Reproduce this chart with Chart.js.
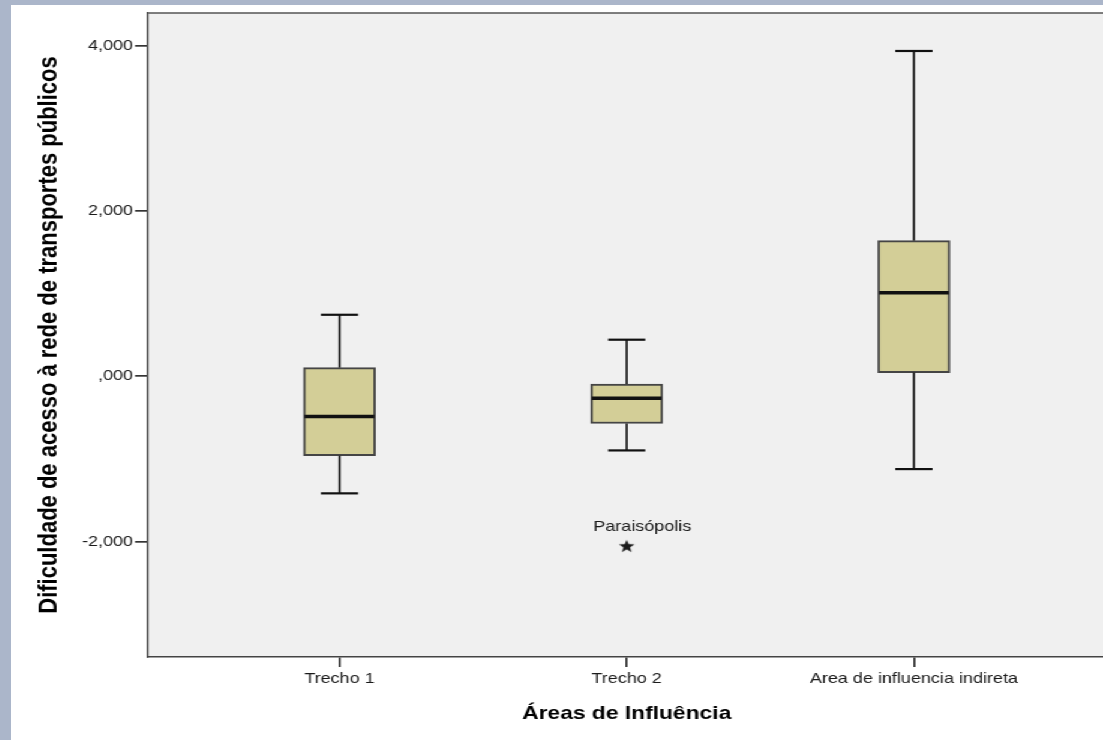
<!DOCTYPE html>
<html>
<head>
<meta charset="utf-8">
<script src="https://cdn.jsdelivr.net/npm/chart.js@4"></script>
<style>
  html, body { margin: 0; padding: 0; overflow: hidden; background: #abb6ca; width: 1103px; height: 740px; }
  #wrap { position: absolute; left: 11px; top: 5px; width: 920px; height: 735px; background: #fff;
          transform: scaleX(1.2); transform-origin: 0 0; }
</style>
</head>
<body>
<div id="wrap"><canvas id="boxChart"></canvas></div>
<script>
// box plot values
const categories = ['Trecho 1', 'Trecho 2', 'Area de influencia indireta'];
const whiskerLow  = [-1.418, -0.898, -1.124];
const quartile1   = [-0.963, -0.572,  0.045];
const medians     = [-0.487, -0.266,  1.011];
const quartile3   = [ 0.105, -0.093,  1.643];
const whiskerHigh = [ 0.745,  0.443,  3.940];

const outlierCategory = [2];
const outlierValues = [-2.054];
const outlierLabels = ['Paraisópolis'];

const yTicks = [-2, 0, 2, 4];

const FONT = "'Liberation Sans', Arial, sans-serif";

// filled 5 point star for the outlier
function makeStar(r) {
  const c = document.createElement('canvas');
  c.width = Math.ceil(r * 2) + 2;
  c.height = Math.ceil(r * 2) + 2;
  const g = c.getContext('2d');
  const cx = c.width / 2, cy = c.height / 2 + r * 0.1;
  g.beginPath();
  for (let i = 0; i < 10; i++) {
    const rad = i % 2 === 0 ? r : r * 0.42;
    const ang = -Math.PI / 2 + i * Math.PI / 5;
    g.lineTo(cx + rad * Math.cos(ang), cy + rad * Math.sin(ang));
  }
  g.closePath();
  g.fillStyle = '#1a1a1a';
  g.fill();
  return c;
}

const boxExtras = {
  id: 'boxExtras',
  beforeDraw(chart) {
    const {ctx, chartArea: a} = chart;
    ctx.save();
    ctx.fillStyle = '#f0f0f0';
    ctx.fillRect(a.left, a.top, a.right - a.left, a.bottom - a.top);
    ctx.restore();
  },
  afterDatasetsDraw(chart) {
    const {ctx, chartArea: a, scales: {x, y}} = chart;
    const line = (x1, y1, x2, y2) => {
      ctx.beginPath();
      ctx.moveTo(x1, y1);
      ctx.lineTo(x2, y2);
      ctx.stroke();
    };
    ctx.save();
    ctx.strokeStyle = '#111';
    categories.forEach((c, i) => {
      const px = x.getPixelForValue(i + 1);
      const hi = y.getPixelForValue(whiskerHigh[i]);
      const lo = y.getPixelForValue(whiskerLow[i]);
      ctx.lineWidth = 1.7;
      line(px, y.getPixelForValue(quartile3[i]), px, hi);
      line(px, y.getPixelForValue(quartile1[i]), px, lo);
      ctx.lineWidth = 2.2;
      line(px - 15.5, hi, px + 15.5, hi);
      line(px - 15.5, lo, px + 15.5, lo);
      ctx.lineWidth = 3.5;
      const md = y.getPixelForValue(medians[i]);
      line(px - 29, md, px + 29, md);
    });
    // outlier labels
    ctx.fillStyle = '#1a1a1a';
    ctx.font = '15px ' + FONT;
    ctx.textAlign = 'center';
    ctx.textBaseline = 'middle';
    outlierLabels.forEach((t, i) => {
      ctx.fillText(t, x.getPixelForValue(outlierCategory[i]) + 13, y.getPixelForValue(outlierValues[i]) - 19);
    });
    // top frame line
    ctx.strokeStyle = '#555';
    ctx.lineWidth = 1.5;
    line(a.left, a.top, a.right, a.top);
    line(a.right, a.top, a.right, a.bottom);
    ctx.restore();
  }
};

new Chart(document.getElementById('boxChart'), {
  type: 'bar',
  data: {
    datasets: [
      {
        label: 'caixa',
        data: categories.map((c, i) => ({x: i + 1, y: [quartile1[i], quartile3[i]]})),
        backgroundColor: '#d3ce97',
        borderColor: '#454545',
        borderWidth: 2,
        borderSkipped: false,
        barThickness: 60
      },
      {
        type: 'scatter',
        label: 'outliers',
        data: outlierValues.map((v, i) => ({x: outlierCategory[i], y: v})),
        pointStyle: makeStar(6.8),
        pointRadius: 7
      }
    ]
  },
  options: {
    responsive: true,
    maintainAspectRatio: false,
    animation: false,
    layout: { padding: { top: 7, right: 7, left: 0, bottom: 0 } },
    plugins: { legend: { display: false }, tooltip: { enabled: false } },
    scales: {
      x: {
        type: 'linear',
        min: 1 / 3,
        max: 11 / 3,
        offset: false,
        afterBuildTicks: s => { s.ticks = categories.map((c, i) => ({value: i + 1})); },
        afterFit: s => { s.height = 83; s.paddingLeft = 0; s.paddingRight = 0; },
        grid: { drawOnChartArea: false, offset: false, tickLength: 10, tickColor: '#333', lineWidth: 1.7 },
        border: { display: true, color: '#444', width: 1.5 },
        ticks: {
          color: '#1a1a1a',
          padding: 3,
          maxRotation: 0,
          autoSkip: false,
          font: { family: FONT, size: 15 },
          callback: v => categories[v - 1]
        },
        title: {
          display: true,
          text: 'Áreas de Influência',
          color: '#000',
          font: { family: FONT, size: 19, weight: 'bold' },
          padding: { top: 0, bottom: 15 }
        }
      },
      y: {
        min: -3.4,
        max: 4.4,
        afterBuildTicks: s => { s.ticks = yTicks.map(v => ({value: v})); },
        afterFit: s => { s.width = 114.17; s.paddingTop = 0; s.paddingBottom = 0; },
        grid: { drawOnChartArea: false, tickLength: 10.8, tickColor: '#333', lineWidth: 1.7 },
        border: { display: true, color: '#444', width: 1.5 },
        ticks: {
          color: '#1a1a1a',
          padding: 1.7,
          font: { family: FONT, size: 15 },
          callback: v => v === 0 ? ',000' : v.toFixed(3).replace('.', ',')
        },
        title: {
          display: true,
          text: 'Dificuldade de acesso à rede de transportes públicos',
          color: '#000',
          font: { family: FONT, size: 22, weight: 'bold' },
          padding: { top: 18.9, bottom: 0 }
        }
      }
    }
  },
  plugins: [boxExtras]
});
</script>
</body>
</html>
